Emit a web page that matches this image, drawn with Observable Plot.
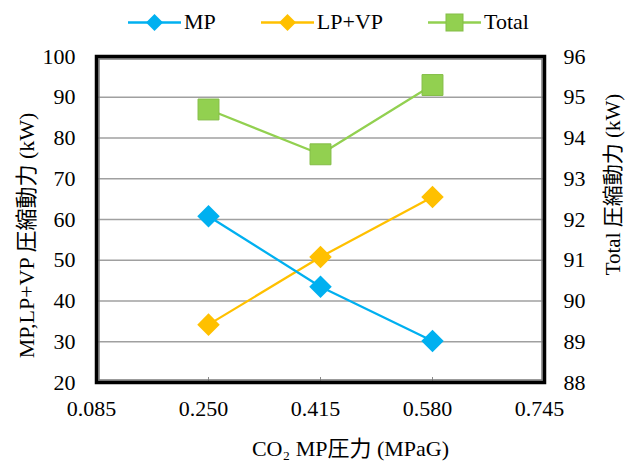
<!DOCTYPE html>
<html><head><meta charset="utf-8">
<script src="https://cdn.jsdelivr.net/npm/d3@7"></script>
<script src="https://cdn.jsdelivr.net/npm/@observablehq/plot@0.6"></script>
<style>
body{margin:0;background:#fff;font-family:"Liberation Serif","Noto Sans CJK JP",serif;color:#000;}
#legend{height:44px;display:flex;align-items:center;padding-left:128px;gap:45px;font-size:22px;}
.item{display:flex;align-items:center;gap:3px;}
.item svg{display:block;}
#chart svg text{font-family:"Liberation Serif","Noto Sans CJK JP",serif;}
</style></head><body>
<div id="legend"></div>
<div id="chart"></div>
<script>
// ---- data ----
const pressure = [0.25, 0.415, 0.58];
const mp = [60.8, 43.5, 30.2];
const lpvp = [34.2, 50.8, 65.5];
const total = [94.7, 93.6, 95.3];
const xTicks = [0.085, 0.25, 0.415, 0.58, 0.745];
const leftTicks = [20, 30, 40, 50, 60, 70, 80, 90, 100];
const rightTicks = [88, 89, 90, 91, 92, 93, 94, 95, 96];
const seriesNames = ["MP", "LP+VP", "Total"];
const seriesColors = ["#00b0f0", "#ffc000", "#92d050"];
const xTitle = "CO₂ MP圧力 (MPaG)";
const yTitleLeft = "MP,LP+VP 圧縮動力 (kW)";
const yTitleRight = "Total 圧縮動力 (kW)";

// right axis (Total) mapped onto left scale
const toLeft = d3.scaleLinear().domain([88, 96]).range([20, 100]);

const rowsMP = pressure.map((x, i) => ({x, y: mp[i]}));
const rowsLV = pressure.map((x, i) => ({x, y: lpvp[i]}));
const rowsT = pressure.map((x, i) => ({x, y: toLeft(total[i])}));

const font = "Liberation Serif, Noto Sans CJK JP, serif";

// ---- legend ----
const legend = document.getElementById("legend");
seriesNames.forEach((name, i) => {
  const item = document.createElement("div");
  item.className = "item";
  const c = seriesColors[i];
  const marker = i < 2
    ? `<rect x="20.5" y="4.5" width="12" height="12" fill="${c}" transform="rotate(45 26.5 10.5)"/>`
    : `<rect x="18" y="2" width="17" height="17" fill="${c}" stroke="#84bd47" stroke-width="1"/>`;
  item.innerHTML = `<svg width="53" height="21"><line x1="0" x2="53" y1="10.5" y2="10.5" stroke="${c}" stroke-width="2.5"/>${marker}</svg><span>${name}</span>`;
  legend.appendChild(item);
});

// ---- chart ----
const txt = {fontFamily: font, fontSize: 22, fill: "#000"};
const chart = Plot.plot({
  width: 628,
  height: 419,
  marginTop: 12,
  marginBottom: 81,
  marginLeft: 96,
  marginRight: 84,
  style: {fontFamily: font, fontSize: "22px", color: "#000", background: "#fff"},
  x: {domain: [0.085, 0.745]},
  y: {domain: [20, 100]},
  marks: [
    Plot.ruleY(leftTicks.filter(d => d > 20 && d < 100), {stroke: "#a0a0a0", strokeWidth: 1.3}),
    Plot.axisX(xTicks.slice(1, -1), {tickSize: -5, tickFormat: () => "", stroke: "#8a8a8a", label: null}),
    Plot.line(rowsT, {x: "x", y: "y", stroke: seriesColors[2], strokeWidth: 2.25}),
    Plot.line(rowsLV, {x: "x", y: "y", stroke: seriesColors[1], strokeWidth: 2.25}),
    Plot.line(rowsMP, {x: "x", y: "y", stroke: seriesColors[0], strokeWidth: 2.25}),
    Plot.dot(rowsT, {x: "x", y: "y", symbol: "square", r: 11.8, fill: seriesColors[2], stroke: "#84bd47", strokeWidth: 1}),
    Plot.dot(rowsLV, {x: "x", y: "y", symbol: "square", rotate: 45, r: 9, fill: seriesColors[1]}),
    Plot.dot(rowsMP, {x: "x", y: "y", symbol: "square", rotate: 45, r: 9, fill: seriesColors[0]}),
    Plot.frame({stroke: "#7a7a7a", strokeWidth: 1.5, inset: 2.5}),
    Plot.frame({stroke: "#000", strokeWidth: 3.5}),
    Plot.axisX(xTicks, {...txt, tickFormat: d3.format(".3f"), tickSize: 0, tickPadding: 18, dx: -5, label: null}),
    Plot.axisY(leftTicks, {...txt, anchor: "left", tickSize: 0, tickPadding: 21, label: null}),
    Plot.axisY(rightTicks.map(toLeft), {...txt, anchor: "right", tickSize: 0, tickPadding: 19, tickFormat: d => String(Math.round(toLeft.invert(d))), label: null}),
    Plot.text([xTitle], {...txt, frameAnchor: "bottom", dx: 30, dy: 66, textAnchor: "middle", lineAnchor: "middle"}),
    Plot.text([yTitleLeft], {...txt, frameAnchor: "left", rotate: -90, dx: -70, dy: 16, textAnchor: "middle", lineAnchor: "middle"}),
    Plot.text([yTitleRight], {...txt, fontSize: 21, frameAnchor: "right", rotate: -90, dx: 69, dy: -35, textAnchor: "middle", lineAnchor: "middle"})
  ]
});
document.getElementById("chart").appendChild(chart);
</script>
</body></html>
